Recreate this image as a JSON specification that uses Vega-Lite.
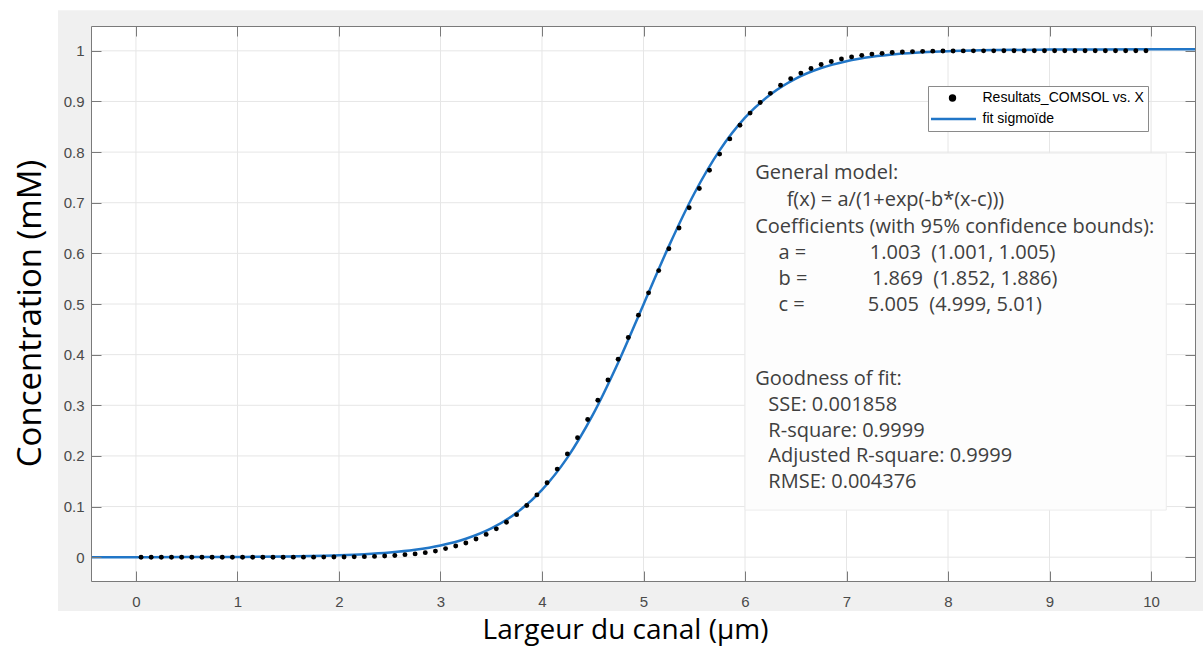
{
  "$schema": "https://vega.github.io/schema/vega-lite/v6.json",
  "width": 1104,
  "height": 555,
  "autosize": {"type": "none"},
  "padding": {"left": 91, "top": 26, "right": 8, "bottom": 65},
  "background": "white",
  "config": {
    "view": {"stroke": null},
    "axis": {
      "zindex": 1,
      "domainColor": "#7a7a7a",
      "tickColor": "#7a7a7a",
      "tickSize": -10,
      "labelFont": "Liberation Sans",
      "labelFontSize": 15,
      "labelColor": "#4a4a4a",
      "titleFont": "Open Sans",
      "titleFontSize": 28,
      "titleFontWeight": "normal",
      "titleColor": "#000000",
      "grid": false
    }
  },
  "resolve": {"axis": {"x": "independent", "y": "independent"}},
  "datasets": {
    "comsol": [
      {"x": 0.05, "c": 0}, {"x": 0.15, "c": 0}, {"x": 0.25, "c": 0}, {"x": 0.35, "c": 0}, {"x": 0.45, "c": 0},
      {"x": 0.55, "c": 0}, {"x": 0.65, "c": 0}, {"x": 0.75, "c": 0}, {"x": 0.85, "c": 0}, {"x": 0.95, "c": 0},
      {"x": 1.05, "c": 0}, {"x": 1.15, "c": 0}, {"x": 1.25, "c": 0}, {"x": 1.35, "c": 0}, {"x": 1.45, "c": 0},
      {"x": 1.55, "c": 0.0001}, {"x": 1.65, "c": 0.0001}, {"x": 1.75, "c": 0.0001}, {"x": 1.85, "c": 0.0002}, {"x": 1.95, "c": 0.0003},
      {"x": 2.05, "c": 0.0005}, {"x": 2.15, "c": 0.0007}, {"x": 2.25, "c": 0.0011}, {"x": 2.35, "c": 0.0016}, {"x": 2.45, "c": 0.0023},
      {"x": 2.55, "c": 0.0033}, {"x": 2.65, "c": 0.005}, {"x": 2.75, "c": 0.0065}, {"x": 2.85, "c": 0.009}, {"x": 2.95, "c": 0.012},
      {"x": 3.05, "c": 0.017}, {"x": 3.15, "c": 0.022}, {"x": 3.25, "c": 0.028}, {"x": 3.35, "c": 0.036}, {"x": 3.45, "c": 0.045},
      {"x": 3.55, "c": 0.056}, {"x": 3.65, "c": 0.069}, {"x": 3.75, "c": 0.084}, {"x": 3.85, "c": 0.102}, {"x": 3.95, "c": 0.123},
      {"x": 4.05, "c": 0.147}, {"x": 4.15, "c": 0.174}, {"x": 4.25, "c": 0.204}, {"x": 4.35, "c": 0.236}, {"x": 4.45, "c": 0.272},
      {"x": 4.55, "c": 0.31}, {"x": 4.65, "c": 0.35}, {"x": 4.75, "c": 0.391}, {"x": 4.85, "c": 0.434}, {"x": 4.95, "c": 0.478},
      {"x": 5.05, "c": 0.522}, {"x": 5.15, "c": 0.566}, {"x": 5.25, "c": 0.609}, {"x": 5.35, "c": 0.65}, {"x": 5.45, "c": 0.69},
      {"x": 5.55, "c": 0.728}, {"x": 5.65, "c": 0.764}, {"x": 5.75, "c": 0.796}, {"x": 5.85, "c": 0.826}, {"x": 5.95, "c": 0.853},
      {"x": 6.05, "c": 0.877}, {"x": 6.15, "c": 0.898}, {"x": 6.25, "c": 0.916}, {"x": 6.35, "c": 0.932}, {"x": 6.45, "c": 0.945},
      {"x": 6.55, "c": 0.956}, {"x": 6.65, "c": 0.965}, {"x": 6.75, "c": 0.973}, {"x": 6.85, "c": 0.979}, {"x": 6.95, "c": 0.984},
      {"x": 7.05, "c": 0.988}, {"x": 7.15, "c": 0.991}, {"x": 7.25, "c": 0.9935}, {"x": 7.35, "c": 0.995}, {"x": 7.45, "c": 0.9967},
      {"x": 7.55, "c": 0.9977}, {"x": 7.65, "c": 0.9984}, {"x": 7.75, "c": 0.9989}, {"x": 7.85, "c": 0.9993}, {"x": 7.95, "c": 0.9995},
      {"x": 8.05, "c": 0.9997}, {"x": 8.15, "c": 0.9998}, {"x": 8.25, "c": 0.9999}, {"x": 8.35, "c": 0.9999}, {"x": 8.45, "c": 0.9999},
      {"x": 8.55, "c": 1}, {"x": 8.65, "c": 1}, {"x": 8.75, "c": 1}, {"x": 8.85, "c": 1}, {"x": 8.95, "c": 1},
      {"x": 9.05, "c": 1}, {"x": 9.15, "c": 1}, {"x": 9.25, "c": 1}, {"x": 9.35, "c": 1}, {"x": 9.45, "c": 1},
      {"x": 9.55, "c": 1}, {"x": 9.65, "c": 1}, {"x": 9.75, "c": 1}, {"x": 9.85, "c": 1}, {"x": 9.95, "c": 1}
    ],
    "fit": [
      {"x": -0.443, "f": 0.00004}, {"x": 0, "f": 0.00009}, {"x": 0.5, "f": 0.00022}, {"x": 1, "f": 0.00056},
      {"x": 1.5, "f": 0.00143}, {"x": 2, "f": 0.00364}, {"x": 2.25, "f": 0.00579}, {"x": 2.5, "f": 0.0092},
      {"x": 2.75, "f": 0.0146}, {"x": 3, "f": 0.0231}, {"x": 3.25, "f": 0.0364}, {"x": 3.5, "f": 0.0568},
      {"x": 3.75, "f": 0.0877}, {"x": 4, "f": 0.133}, {"x": 4.25, "f": 0.1967}, {"x": 4.5, "f": 0.281},
      {"x": 4.75, "f": 0.3841}, {"x": 5, "f": 0.4992}, {"x": 5.25, "f": 0.6143}, {"x": 5.5, "f": 0.7182},
      {"x": 5.75, "f": 0.8034}, {"x": 6, "f": 0.8679}, {"x": 6.25, "f": 0.9138}, {"x": 6.5, "f": 0.9452},
      {"x": 6.75, "f": 0.966}, {"x": 7, "f": 0.9795}, {"x": 7.25, "f": 0.9881}, {"x": 7.5, "f": 0.9936},
      {"x": 7.75, "f": 0.9971}, {"x": 8, "f": 0.9993}, {"x": 8.5, "f": 1.0015}, {"x": 9, "f": 1.0024},
      {"x": 9.5, "f": 1.0028}, {"x": 10, "f": 1.0029}, {"x": 10.433, "f": 1.003}
    ],
    "notes": [
      {"x": 6.1, "y": 0.759, "t": "General model:"},
      {"x": 6.41, "y": 0.706, "t": "f(x) = a/(1+exp(-b*(x-c)))"},
      {"x": 6.1, "y": 0.652, "t": "Coefficients (with 95% confidence bounds):"},
      {"x": 6.33, "y": 0.601, "t": "a ="},
      {"x": 7.23, "y": 0.601, "t": "1.003 \u00a0(1.001, 1.005)"},
      {"x": 6.33, "y": 0.549, "t": "b ="},
      {"x": 7.25, "y": 0.549, "t": "1.869 \u00a0(1.852, 1.886)"},
      {"x": 6.33, "y": 0.498, "t": "c ="},
      {"x": 7.21, "y": 0.498, "t": "5.005 \u00a0(4.999, 5.01)"},
      {"x": 6.1, "y": 0.352, "t": "Goodness of fit:"},
      {"x": 6.23, "y": 0.3, "t": "SSE: 0.001858"},
      {"x": 6.23, "y": 0.249, "t": "R-square: 0.9999"},
      {"x": 6.23, "y": 0.2, "t": "Adjusted R-square: 0.9999"},
      {"x": 6.23, "y": 0.148, "t": "RMSE: 0.004376"}
    ]
  },
  "layer": [
    {
      "data": {"values": [{"x1": -0.768, "x2": 10.52, "y1": -0.106, "y2": 1.08}]},
      "mark": {"type": "rect", "fill": "#f0f0f0", "clip": false},
      "encoding": {
        "x": {"field": "x1", "type": "quantitative", "scale": {"domain": [-0.443, 10.433], "nice": false, "zero": false}, "axis": null},
        "x2": {"field": "x2"},
        "y": {"field": "y1", "type": "quantitative", "scale": {"domain": [-0.047, 1.049], "nice": false, "zero": false}, "axis": null},
        "y2": {"field": "y2"}
      }
    },
    {
      "data": {"values": [{"x1": -0.443, "x2": 10.433, "y1": -0.047, "y2": 1.049}]},
      "mark": {"type": "rect", "fill": "#ffffff"},
      "encoding": {
        "x": {"field": "x1", "type": "quantitative", "axis": null},
        "x2": {"field": "x2"},
        "y": {"field": "y1", "type": "quantitative", "axis": null},
        "y2": {"field": "y2"}
      }
    },
    {
      "data": {"values": [{"v": 0}, {"v": 1}, {"v": 2}, {"v": 3}, {"v": 4}, {"v": 5}, {"v": 6}, {"v": 7}, {"v": 8}, {"v": 9}, {"v": 10}]},
      "mark": {"type": "rule", "color": "#e6e6e6", "strokeWidth": 1},
      "encoding": {
        "x": {"field": "v", "type": "quantitative",
          "axis": {"orient": "bottom", "zindex": 1, "values": [0, 1, 2, 3, 4, 5, 6, 7, 8, 9, 10], "format": "d",
            "labelFontSize": 15, "labelPadding": 23,
            "title": "Largeur du canal (µm)", "titleFontSize": 28, "titleX": 534, "titleY": 49, "titleAlign": "center", "titleBaseline": "middle"}}
      }
    },
    {
      "data": {"values": [{"v": 0}, {"v": 0.1}, {"v": 0.2}, {"v": 0.3}, {"v": 0.4}, {"v": 0.5}, {"v": 0.6}, {"v": 0.7}, {"v": 0.8}, {"v": 0.9}, {"v": 1}]},
      "mark": {"type": "rule", "color": "#e6e6e6", "strokeWidth": 1},
      "encoding": {
        "y": {"field": "v", "type": "quantitative",
          "axis": {"orient": "left", "zindex": 1, "values": [0, 0.1, 0.2, 0.3, 0.4, 0.5, 0.6, 0.7, 0.8, 0.9, 1], "format": "~g",
            "labelFontSize": 15, "labelPadding": 17,
            "title": "Concentration (mM)", "titleFontSize": 33, "titleX": -61, "titleY": 287, "titleAngle": 270, "titleAlign": "center", "titleBaseline": "middle"}}
      }
    },
    {
      "data": {"values": [{"x1": 6.0, "x2": 10.15, "y1": 0.093, "y2": 0.798}]},
      "mark": {"type": "rect", "fill": "#fdfdfd", "stroke": "#ececec", "strokeWidth": 1},
      "encoding": {
        "x": {"field": "x1", "type": "quantitative", "axis": null},
        "x2": {"field": "x2"},
        "y": {"field": "y1", "type": "quantitative", "axis": null},
        "y2": {"field": "y2"}
      }
    },
    {
      "data": {"name": "fit"},
      "mark": {"type": "line", "strokeWidth": 2.5, "interpolate": "monotone", "clip": true},
      "encoding": {
        "x": {"field": "x", "type": "quantitative", "axis": null},
        "y": {"field": "f", "type": "quantitative", "axis": null},
        "color": {"datum": "fit sigmoïde", "type": "nominal",
          "scale": {"domain": ["Resultats_COMSOL vs. X", "fit sigmoïde"], "range": ["#000000", "#2176c7"]},
          "legend": {
            "orient": "none", "legendX": 837, "legendY": 60, "title": null,
            "fillColor": "#ffffff", "strokeColor": "#8a8a8a", "padding": 3,
            "symbolSize": 2209, "clipHeight": 18, "rowPadding": 3, "labelOffset": 23, "symbolOffset": 14.5,
            "labelFont": "Liberation Sans", "labelFontSize": 14, "labelColor": "#000000", "labelLimit": 400,
            "encode": {
              "symbols": {
                "update": {
                  "shape": {"signal": "datum.value === 'fit sigmoïde' ? 'stroke' : 'circle'"},
                  "size": {"signal": "datum.value === 'fit sigmoïde' ? 2209 : 24"},
                  "fill": {"signal": "datum.value === 'fit sigmoïde' ? 'transparent' : '#000000'"},
                  "stroke": {"signal": "datum.value === 'fit sigmoïde' ? '#2176c7' : 'transparent'"},
                  "strokeWidth": {"value": 2.5},
                  "opacity": {"value": 1}
                }
              }
            }
          }
        }
      }
    },
    {
      "data": {"name": "comsol"},
      "mark": {"type": "point", "filled": true, "size": 24, "opacity": 1},
      "encoding": {
        "x": {"field": "x", "type": "quantitative",
          "axis": {"orient": "top", "zindex": 1, "values": [0, 1, 2, 3, 4, 5, 6, 7, 8, 9, 10], "labels": false, "title": null}},
        "y": {"field": "c", "type": "quantitative",
          "axis": {"orient": "right", "zindex": 1, "values": [0, 0.1, 0.2, 0.3, 0.4, 0.5, 0.6, 0.7, 0.8, 0.9, 1], "labels": false, "title": null}},
        "color": {"datum": "Resultats_COMSOL vs. X", "type": "nominal"}
      }
    },
    {
      "data": {"name": "notes"},
      "mark": {"type": "text", "align": "left", "baseline": "middle", "font": "Open Sans", "fontSize": 20, "color": "#404040"},
      "encoding": {
        "x": {"field": "x", "type": "quantitative", "axis": null},
        "y": {"field": "y", "type": "quantitative", "axis": null},
        "text": {"field": "t"}
      }
    }
  ]
}
